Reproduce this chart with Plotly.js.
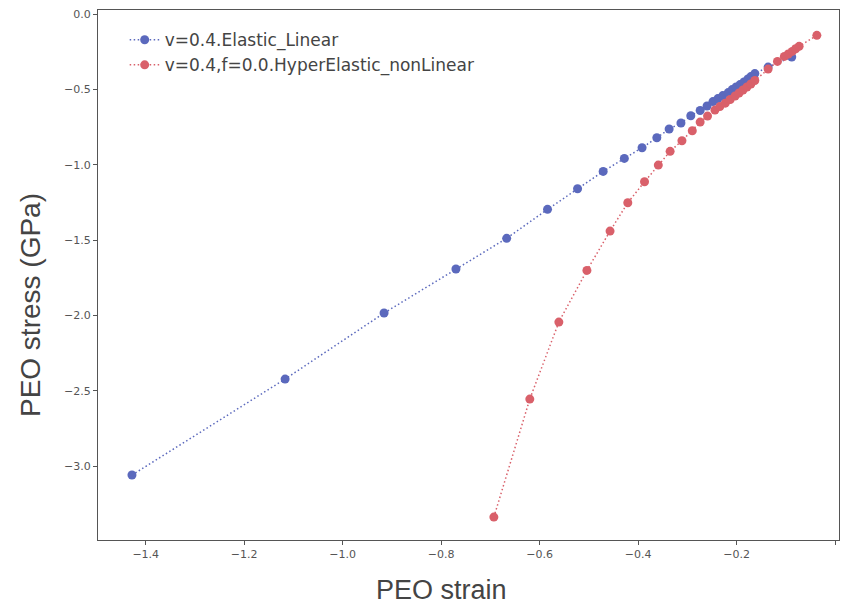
<!DOCTYPE html>
<html>
<head>
<meta charset="utf-8">
<script src="https://cdn.plot.ly/plotly-3.0.1.min.js"></script>
<style>html,body{margin:0;padding:0;background:#fff;}#chart{width:841px;height:608px;}</style>
</head>
<body>
<div id="chart"></div>
<script>
// Elastic linear series (strain, stress GPa)
const linStrain = [-1.428, -1.117, -0.916, -0.770, -0.667, -0.584, -0.523, -0.471, -0.428, -0.392,
  -0.362, -0.337, -0.313, -0.293, -0.274, -0.260, -0.248, -0.238, -0.228, -0.217,
  -0.209, -0.201, -0.193, -0.185, -0.177, -0.171, -0.163, -0.136, -0.088];
const linStress = [-3.059, -2.422, -1.984, -1.692, -1.488, -1.296, -1.159, -1.044, -0.958, -0.887,
  -0.821, -0.763, -0.723, -0.675, -0.640, -0.610, -0.581, -0.561, -0.541, -0.521,
  -0.501, -0.484, -0.468, -0.451, -0.431, -0.415, -0.395, -0.352, -0.285];
// Hyperelastic non-linear series
const hypStrain = [-0.693, -0.620, -0.561, -0.504, -0.457, -0.421, -0.387, -0.359, -0.335, -0.311,
  -0.290, -0.274, -0.259, -0.244, -0.234, -0.223, -0.213, -0.203, -0.195, -0.187,
  -0.179, -0.171, -0.163, -0.136, -0.117, -0.103, -0.095, -0.087, -0.080, -0.073, -0.037];
const hypStress = [-3.338, -2.555, -2.044, -1.701, -1.440, -1.252, -1.113, -1.002, -0.911, -0.841,
  -0.774, -0.717, -0.677, -0.637, -0.614, -0.591, -0.567, -0.544, -0.524, -0.504,
  -0.484, -0.464, -0.441, -0.365, -0.314, -0.281, -0.265, -0.248, -0.230, -0.214, -0.141];
const seriesNames = ["v=0.4.Elastic_Linear", "v=0.4,f=0.0.HyperElastic_nonLinear"];
const xTitle = "PEO strain";
const yTitle = "PEO stress (GPa)";
const xTicks = [-1.4, -1.2, -1.0, -0.8, -0.6, -0.4, -0.2, 0.0];
const yTicks = [0.0, -0.5, -1.0, -1.5, -2.0, -2.5, -3.0];

const blue = "#5b69bd";
const red = "#d9606a";

const traces = [
  {x: linStrain, y: linStress, name: seriesNames[0], mode: "lines+markers", type: "scatter",
   line: {color: blue, width: 1.5, dash: "1.5px,2.5px"}, marker: {color: blue, size: 9}},
  {x: hypStrain, y: hypStress, name: seriesNames[1], mode: "lines+markers", type: "scatter",
   line: {color: red, width: 1.5, dash: "1.5px,2.5px"}, marker: {color: red, size: 9}}
];

const tickFmt = v => (v < 0 ? "\u2212" : "") + Math.abs(v).toFixed(1);

const layout = {
  width: 841, height: 608,
  margin: {l: 98, r: 2, t: 10, b: 68},
  paper_bgcolor: "#fff", plot_bgcolor: "#fff",
  showlegend: true,
  legend: {x: 0.036, y: 0.977, xanchor: "left", yanchor: "top",
    font: {family: "DejaVu Sans", size: 17, color: "#444"},
    bgcolor: "rgba(255,255,255,0.8)", bordercolor: "rgba(0,0,0,0)", borderwidth: 0},
  xaxis: {
    range: [-1.497, 0.008], showgrid: false, zeroline: false,
    showline: true, mirror: true, linecolor: "#555", linewidth: 1,
    ticks: "outside", ticklen: 4, tickcolor: "#555",
    tickvals: xTicks, ticktext: xTicks.map(tickFmt),
    tickfont: {family: "DejaVu Sans", size: 11, color: "#555"}
  },
  yaxis: {
    range: [-3.49, 0.027], showgrid: false, zeroline: false,
    showline: true, mirror: true, linecolor: "#555", linewidth: 1,
    ticks: "outside", ticklen: 4, tickcolor: "#555",
    tickvals: yTicks, ticktext: yTicks.map(tickFmt),
    tickfont: {family: "DejaVu Sans", size: 11, color: "#555"}
  },
  annotations: [
    {text: xTitle, xref: "paper", yref: "paper", x: 0.464, y: -0.094,
     xanchor: "center", yanchor: "middle", showarrow: false,
     font: {family: "Liberation Sans", size: 27, color: "#444"}},
    {text: yTitle, xref: "paper", yref: "paper", x: -0.092, y: 0.443,
     xanchor: "center", yanchor: "middle", showarrow: false, textangle: -90,
     font: {family: "Liberation Sans", size: 28, color: "#444"}}
  ]
};

Plotly.newPlot("chart", traces, layout, {displayModeBar: false, staticPlot: true});
</script>
</body>
</html>
